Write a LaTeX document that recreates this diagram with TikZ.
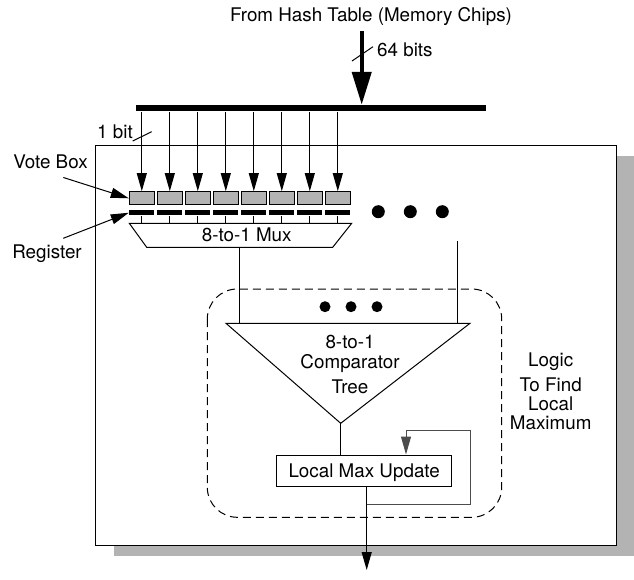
\documentclass[tikz,border=0pt]{standalone}
\usepackage{fontspec}
\setmainfont{TeX Gyre Heros}
\usetikzlibrary{arrows.meta,positioning}
\definecolor{boxgray}{RGB}{179,179,179}
\tikzset{
  lbl/.style={inner sep=0pt},
  votebox/.style={draw, fill=boxgray, minimum width=25pt, minimum height=13.3pt, inner sep=0pt},
  regbar/.style={fill=black, minimum width=25pt, minimum height=5pt, inner sep=0pt},
  bigdot/.style={circle, fill=black, minimum size=#1, inner sep=0pt},
  bigdot/.default=13pt,
}

\begin{document}
\begin{tikzpicture}[x=1pt, y=-1pt, line width=1pt, font=\fontsize{18.8}{20}\selectfont,
    >={Triangle[length=18pt,width=10pt]}]
  \useasboundingbox (0,0) rectangle (634,580);
  \fill[boxgray] (114,156) rectangle (634,556);
  \draw[fill=white] (95.5,146) rectangle (616,545);

  \node[lbl, anchor=base] (title) at (371,21.8) {From Hash Table (Memory Chips)};
  \node[fill, minimum width=349.7pt, minimum height=6pt, inner sep=0pt] (bus) at (310.85,108.3) {};
  \coordinate (in) at (361.7,31);
  \draw[line width=4.3pt, -{Triangle[length=33pt,width=19pt]}] (in) -- (bus.north -| in);
  \draw (352,61) -- (373,46.7);
  \node[lbl, anchor=base west] (wide) at (376.7,56.8) {64 bits};
  \node[lbl, anchor=base west] (onebit) at (96.7,138.3) {1 bit};
  \draw (132.7,141) -- (151.7,131.7);

  \draw (129.3,223.3) -- (351.7,223.3) -- (332.7,247.3) -- (146.7,247.3) -- cycle;
  \coordinate (muxtop) at (240,223.3);
  \coordinate (muxout) at (239.3,247.3);
  \node[lbl, anchor=base] (mux) at (246.7,241.7) {8-to-1 Mux};

  \foreach \i in {0,...,7} {
    \node[votebox] (vb\i) at (141.8+28*\i,198.3) {};
    \node[regbar, below=4.3pt of vb\i] (rg\i) {};
    \draw[->] (bus.south -| vb\i) -- (vb\i.north);
    \draw (rg\i) -- (rg\i |- muxtop);
  }

  \node[bigdot] (dota) at (378.3,211.7) {};
  \node[bigdot, right=18pt of dota] (dotb) {};
  \node[bigdot, right=18pt of dotb] (dotc) {};

  \node[lbl, anchor=base] (votelbl) at (50.5,168.3) {Vote Box};
  \draw[->] ([xshift=12.8pt,yshift=-8.4pt]votelbl.south) -- (vb0.west);
  \node[lbl, anchor=base] (reglbl) at (47,258.5) {Register};
  \draw[->] ([xshift=16.3pt,yshift=6pt]reglbl.north) -- (rg0.west);

  \draw[dash pattern=on 8pt off 5pt, rounded corners=30pt] (207.3,289) rectangle (501.7,517.3);

  \coordinate (treel) at (226,323.3);
  \coordinate (treer) at (470,323.3);
  \coordinate (apex) at (340.7,423.3);
  \draw (treel) -- (treer) -- (apex) -- cycle;
  \draw (muxout) -- (muxout |- treel);
  \coordinate (more) at (457.3,241);
  \draw (more) -- (more |- treer);
  \node[bigdot=11pt] (dotd) at (325,306.7) {};
  \node[bigdot=11pt, right=14pt of dotd] (dote) {};
  \node[bigdot=11pt, right=14pt of dote] (dotf) {};
  \node[lbl, align=center, anchor=north] (treelbl) at (350,335) {8-to-1\\Comparator\\[4.3pt]Tree};

  \node[draw, minimum width=175pt, minimum height=31.7pt, inner sep=0pt, text depth=0pt] (lmu) at (364.2,470.85) {Local Max Update};
  \draw (apex) -- (apex |- lmu.north);
  \coordinate (out) at (366.7,570);
  \draw[->] (lmu.south -| out) -- (out);
  \coordinate (loop) at (470,430);
  \draw[->, black!70] (lmu.south -| out) ++(0,17.3) -| (loop) -| ([xshift=41.8pt]lmu.north);

  \node[lbl, align=center, anchor=north, font=\fontsize{18.8}{19}\selectfont] (logic) at (550.7,352.7) {Logic\\[5.7pt]To Find\\Local\\Maximum};
\end{tikzpicture}
\end{document}
